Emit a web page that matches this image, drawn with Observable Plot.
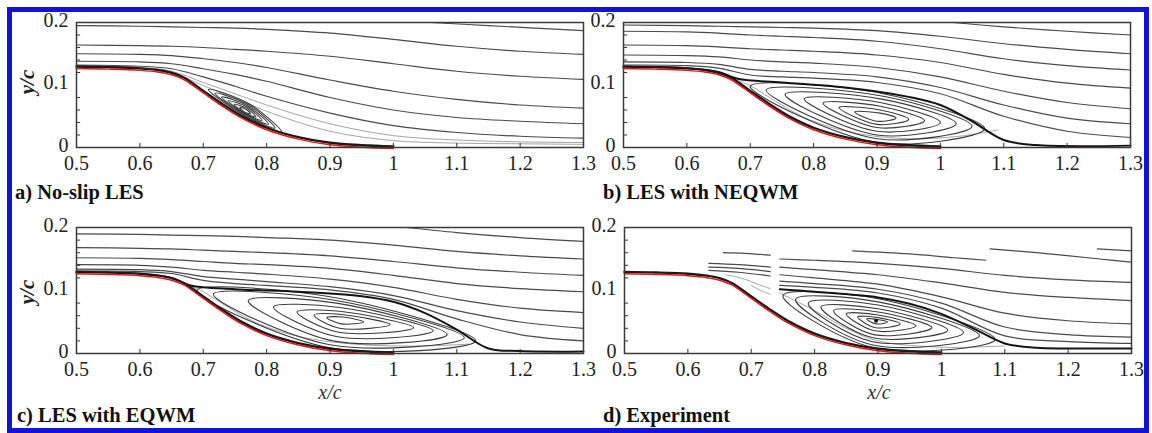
<!DOCTYPE html>
<html><head><meta charset="utf-8">
<script src="https://cdn.jsdelivr.net/npm/d3@7"></script>
<script src="https://cdn.jsdelivr.net/npm/@observablehq/plot@0.6"></script>
<style>
body{margin:0;background:#fff;}
#wrap{position:relative;width:1152px;height:433px;overflow:hidden;background:#fff;}
.panel{position:absolute;}
.panel svg{overflow:visible;background:transparent;}
#border{position:absolute;left:7px;top:7px;width:1142px;height:426px;box-sizing:border-box;border:5px solid #1212d8;}
#labels{position:absolute;left:0;top:0;pointer-events:none;}
</style></head><body><div id="wrap"><div id="border"></div></div>
<script>
// ---- axes ----
const xTicks = [0.5,0.6,0.7,0.8,0.9,1,1.1,1.2,1.3];
const yTicks = [0,0.1,0.2];
const xMinor = [0.6,0.7,0.8,0.9,1,1.1,1.2];
const yMinor = [0.02,0.04,0.06,0.08,0.12,0.14,0.16,0.18];

// ---- hump wall (red line) ----
const wallX = [0.5,0.55,0.6,0.63,0.65,0.67,0.7,0.73,0.76,0.8,0.85,0.9,0.95,1.0];
const wallY = [0.128,0.127,0.125,0.122,0.118,0.110,0.089,0.068,0.049,0.030,0.015,0.006,0.002,0.0];

// ---- x stations for streamlines ----
const stationX = [0.5,0.6,0.65,0.7,0.75,0.8,0.9,1.0,1.1,1.2,1.3];
const dStationX = [0.745,0.8,0.9,1.0,1.1,1.2,1.3];

// ---- a) No-slip LES ----
const aStream = [
  [0.195,0.194,0.193,0.192,0.191,0.189,0.183,0.173,0.162,0.154,0.149],
  [0.164,0.163,0.162,0.160,0.157,0.154,0.146,0.134,0.122,0.114,0.109],
  [0.150,0.149,0.147,0.142,0.136,0.128,0.108,0.090,0.077,0.068,0.063],
  [0.138,0.137,0.134,0.126,0.117,0.106,0.080,0.060,0.048,0.042,0.038],
  [0.132,0.130,0.126,0.113,0.098,0.082,0.055,0.035,0.024,0.018,0.015]
];
const aGrey = [
  [0.131,0.128,0.122,0.104,0.086,0.068,0.038,0.019,0.012,0.009,0.008],
  [0.130,0.127,0.120,0.099,0.079,0.058,0.026,0.011,0.007,0.006,0.005]
];
const aTop = [[1.06,0.2],[1.15,0.195],[1.3,0.187]];
const aLoops = [
  [[0.7574,0.0641],[0.7673,0.0612],[0.7746,0.0539],[0.7650,0.0568]],
  [[0.7488,0.0691],[0.7683,0.0630],[0.7832,0.0489],[0.7645,0.0560]],
  [[0.7393,0.0747],[0.7693,0.0648],[0.7927,0.0433],[0.7640,0.0552]],
  [[0.7289,0.0808],[0.7703,0.0665],[0.8031,0.0372],[0.7635,0.0542]],
  [[0.7186,0.0869],[0.7713,0.0683],[0.8134,0.0311],[0.7630,0.0532]],
  [[0.7082,0.0930],[0.7723,0.0700],[0.8238,0.0250],[0.7625,0.0522]]
];

// ---- b) LES with NEQWM ----
const bStream = [
  [0.196,0.195,0.194,0.193,0.192,0.191,0.187,0.178,0.166,0.157,0.150],
  [0.186,0.185,0.183,0.180,0.178,0.176,0.170,0.158,0.142,0.131,0.124],
  [0.164,0.163,0.161,0.158,0.156,0.154,0.148,0.136,0.117,0.103,0.095],
  [0.148,0.147,0.145,0.140,0.137,0.135,0.128,0.113,0.090,0.072,0.062],
  [0.137,0.136,0.133,0.125,0.122,0.120,0.113,0.096,0.068,0.047,0.038],
  [0.132,0.131,0.127,0.116,0.113,0.111,0.104,0.086,0.050,0.026,0.016]
];
const bTop = [[1.02,0.2],[1.1,0.193],[1.2,0.186],[1.3,0.180]];
const bSep = [[0.5,0.129],[0.6,0.127],[0.65,0.121],[0.68,0.110],[0.75,0.104],[0.85,0.096],[0.95,0.081],[1.0,0.068],[1.05,0.042],[1.1,0.012],[1.15,0.004],[1.3,0.003]];
const bGrey = [
  [[0.675,0.109],[0.70,0.099],[0.74,0.074],[0.79,0.046],[0.86,0.024],[0.95,0.014],[1.03,0.018],[1.09,0.028]]
];
const bLoops = [
  [[0.700,0.098],[0.910,0.086],[1.070,0.030],[0.900,0.008]],
  [[0.725,0.092],[0.910,0.082],[1.050,0.034],[0.900,0.014]],
  [[0.755,0.085],[0.910,0.077],[1.025,0.038],[0.900,0.020]],
  [[0.785,0.078],[0.905,0.072],[1.000,0.040],[0.900,0.026]],
  [[0.815,0.071],[0.905,0.066],[0.975,0.043],[0.900,0.032]],
  [[0.840,0.064],[0.905,0.060],[0.950,0.045],[0.900,0.037]],
  [[0.865,0.057],[0.905,0.055],[0.930,0.047],[0.900,0.042]]
];

// ---- c) LES with EQWM ----
const cStream = [
  [0.190,0.189,0.188,0.187,0.186,0.184,0.180,0.172,0.162,0.155,0.150],
  [0.168,0.167,0.166,0.164,0.162,0.160,0.155,0.146,0.136,0.129,0.124],
  [0.152,0.151,0.149,0.146,0.143,0.141,0.135,0.124,0.111,0.103,0.098],
  [0.141,0.140,0.137,0.132,0.129,0.126,0.118,0.105,0.086,0.072,0.065],
  [0.134,0.133,0.130,0.122,0.118,0.114,0.106,0.092,0.068,0.050,0.040],
  [0.131,0.130,0.127,0.116,0.111,0.108,0.101,0.086,0.055,0.030,0.020]
];
const cTop = [[1.02,0.2],[1.1,0.192],[1.2,0.184],[1.3,0.178]];
const cSep = [[0.5,0.129],[0.6,0.126],[0.65,0.120],[0.68,0.108],[0.75,0.102],[0.85,0.098],[0.95,0.091],[1.0,0.082],[1.05,0.064],[1.1,0.038],[1.15,0.008],[1.2,0.004],[1.3,0.003]];
const cGrey = [
  [[0.675,0.109],[0.70,0.098],[0.74,0.073],[0.79,0.046],[0.86,0.025],[0.95,0.014],[1.05,0.012],[1.12,0.015]]
];
const cLoops = [
  [[0.690,0.100],[0.900,0.090],[1.130,0.020],[0.900,0.009]],
  [[0.716,0.094],[0.905,0.085],[1.112,0.025],[0.900,0.014]],
  [[0.771,0.084],[0.910,0.080],[1.085,0.030],[0.905,0.020]],
  [[0.811,0.074],[0.915,0.073],[1.063,0.036],[0.910,0.027]],
  [[0.848,0.066],[0.915,0.067],[1.032,0.041],[0.912,0.034]],
  [[0.875,0.061],[0.918,0.062],[0.995,0.046],[0.915,0.040]],
  [[0.895,0.057],[0.920,0.058],[0.953,0.050],[0.918,0.047]]
];

// ---- d) Experiment ----
const dStream = [
  [0.150,0.148,0.143,0.135,0.124,0.117,0.113],
  [0.137,0.133,0.125,0.112,0.097,0.089,0.084],
  [0.125,0.120,0.110,0.090,0.064,0.052,0.047],
  [0.115,0.111,0.102,0.080,0.042,0.030,0.026],
  [0.108,0.105,0.096,0.072,0.028,0.019,0.016]
];
const dSep = [[0.745,0.102],[0.8,0.098],[0.9,0.089],[0.95,0.079],[1.0,0.063],[1.05,0.040],[1.1,0.016],[1.15,0.009],[1.2,0.008],[1.3,0.008]];
const dUpper = [
  [[0.86,0.163],[0.95,0.158],[1.02,0.152],[1.07,0.148]],
  [[1.077,0.166],[1.15,0.160],[1.25,0.150],[1.3,0.145]],
  [[1.246,0.166],[1.3,0.163]]
];
const dLeft = [
  [[0.656,0.160],[0.69,0.159],[0.73,0.156]],
  [[0.633,0.143],[0.68,0.141],[0.73,0.137]],
  [[0.633,0.137],[0.68,0.135],[0.73,0.130]],
  [[0.633,0.132],[0.68,0.129],[0.73,0.123]]
];
const dGrey = [
  [[0.66,0.125],[0.69,0.118],[0.71,0.110],[0.73,0.103]],
  [[0.70,0.108],[0.715,0.100],[0.73,0.094]],
  [[0.745,0.096],[0.8,0.068],[0.85,0.040],[0.9,0.020],[1.0,0.010],[1.1,0.012]]
];
const dLoops = [
  [[0.750,0.092],[0.900,0.087],[1.085,0.022],[0.890,0.010]],
  [[0.770,0.086],[0.900,0.082],[1.060,0.028],[0.890,0.014]],
  [[0.790,0.080],[0.900,0.077],[1.035,0.033],[0.890,0.019]],
  [[0.810,0.074],[0.900,0.071],[1.010,0.037],[0.892,0.025]],
  [[0.830,0.068],[0.900,0.066],[0.985,0.041],[0.893,0.030]],
  [[0.850,0.063],[0.900,0.061],[0.960,0.044],[0.895,0.036]],
  [[0.868,0.058],[0.900,0.057],[0.935,0.047],[0.896,0.041]],
  [[0.882,0.055],[0.899,0.054],[0.915,0.050],[0.897,0.047]]
];
const dCore = [[0.897,0.052]];

// ---- build ----
function stationRows(ys, xs, id) { return ys.map((y, i) => ({x: xs[i], y, id})); }
function ptRows(pts, id) { return pts.map(([x, y]) => ({x, y, id})); }
function anyRows(list, xs, pre) {
  return list.flatMap((g, k) => Array.isArray(g[0]) ? ptRows(g, pre + k) : stationRows(g, xs, pre + k));
}
const wallRows = wallX.map((x, i) => ({x, y: wallY[i]}));

function render(cfg) {
  const streamRows = anyRows(cfg.stream.concat(cfg.extra || []), cfg.xs, "s");
  const greyRows = anyRows(cfg.grey || [], cfg.xs, "g");
  const loopRows = cfg.loops.flatMap((p, k) => ptRows(p, "l" + k));
  const sepRows = cfg.sep ? ptRows(cfg.sep, "sep") : [];
  const marks = [
    Plot.line(greyRows, {x: "x", y: "y", z: "id", stroke: "#9a9a9a", strokeWidth: 0.9, curve: "catmull-rom"}),
    Plot.line(streamRows, {x: "x", y: "y", z: "id", stroke: "#4a4a4a", strokeWidth: 1.2, curve: "catmull-rom"}),
    Plot.line(loopRows, {x: "x", y: "y", z: "id", stroke: "#3c3c3c", strokeWidth: 1.1, curve: "catmull-rom-closed"}),
    Plot.line(sepRows, {x: "x", y: "y", stroke: "#151515", strokeWidth: 2, curve: "catmull-rom"}),
    Plot.areaY(wallRows, {x: "x", y: "y", fill: "white", curve: "catmull-rom"}),
    Plot.line(wallRows, {x: "x", y: "y", stroke: "#1a1a1a", strokeWidth: 2.4, dy: -1, curve: "catmull-rom"}),
    Plot.line(wallRows, {x: "x", y: "y", stroke: "#e3141c", strokeWidth: 1.5, dy: 1, curve: "catmull-rom"}),
    Plot.ruleX(xMinor, {x: d => d, y1: 0, y2: 0.0065, stroke: "#333"}),
    Plot.ruleY(yMinor, {y: d => d, x1: 0.5, x2: 0.5065, stroke: "#333"}),
    Plot.frame({stroke: "#3a3a3a", strokeWidth: 1.5}),
    Plot.axisX({ticks: xTicks, tickSize: 0, tickPadding: 8, tickFormat: d => String(d), label: null, fontSize: 20, fill: "#222"}),
    Plot.axisY({ticks: yTicks, tickSize: 0, tickPadding: 8, dy: -2, tickFormat: d => String(d), label: null, fontSize: 20, fill: "#222"})
  ];
  if (cfg.core) marks.push(Plot.dot(ptRows(cfg.core, "c"), {x: "x", y: "y", r: 2, fill: "#111"}));
  const chart = Plot.plot({
    width: cfg.width, height: cfg.height,
    marginLeft: cfg.ml, marginRight: cfg.mr, marginTop: cfg.mt, marginBottom: cfg.mb,
    x: {domain: [0.5, 1.3]}, y: {domain: [0, 0.2]},
    style: {fontFamily: "'Liberation Serif','Times New Roman',serif", fontSize: "20px", background: "transparent", overflow: "visible", color: "#222"},
    marks
  });
  const div = document.createElement("div");
  div.className = "panel";
  div.style.left = cfg.left + "px";
  div.style.top = cfg.top + "px";
  div.appendChild(chart);
  document.getElementById("wrap").appendChild(div);
}

render({stream: aStream, extra: [aTop], grey: aGrey, loops: aLoops, xs: stationX,
  left: 0, top: 0, width: 590, height: 180, ml: 76, mr: 7, mt: 22, mb: 33});
render({stream: bStream, extra: [bTop], grey: bGrey, loops: bLoops, sep: bSep, xs: stationX,
  left: 590, top: 0, width: 562, height: 180, ml: 33, mr: 22, mt: 22, mb: 33});
render({stream: cStream, extra: [cTop], grey: cGrey, loops: cLoops, sep: cSep, xs: stationX,
  left: 0, top: 200, width: 590, height: 200, ml: 76, mr: 7, mt: 27, mb: 47});
render({stream: dStream, extra: dUpper.concat(dLeft), grey: dGrey, loops: dLoops, sep: dSep, core: dCore, xs: dStationX,
  left: 590, top: 200, width: 562, height: 200, ml: 34, mr: 21, mt: 27, mb: 47});

// ---- text labels ----
const panelTitles = ["a) No-slip LES", "b) LES with NEQWM", "c) LES with EQWM", "d) Experiment"];
const ns = "http://www.w3.org/2000/svg";
const lab = document.createElementNS(ns, "svg");
lab.setAttribute("id", "labels");
lab.setAttribute("width", 1152);
lab.setAttribute("height", 433);
lab.setAttribute("font-family", "'Liberation Serif','Times New Roman',serif");
function addText(str, attrs) {
  const t = document.createElementNS(ns, "text");
  for (const k in attrs) t.setAttribute(k, attrs[k]);
  t.textContent = str;
  lab.appendChild(t);
}
const titlePos = [[15, 199], [603, 199], [17, 422], [603, 422]];
panelTitles.forEach((s, i) => addText(s, {x: titlePos[i][0], y: titlePos[i][1], "font-size": 20.5, "font-weight": "bold", fill: "#111"}));
addText("y/c", {transform: "translate(34,82) rotate(-90)", "text-anchor": "middle", "font-size": 21, "font-style": "italic", "font-weight": "bold", fill: "#222"});
addText("y/c", {transform: "translate(34,292) rotate(-90)", "text-anchor": "middle", "font-size": 21, "font-style": "italic", "font-weight": "bold", fill: "#222"});
addText("x/c", {x: 330, y: 399, "text-anchor": "middle", "font-size": 20, "font-style": "italic", fill: "#333"});
addText("x/c", {x: 879, y: 399, "text-anchor": "middle", "font-size": 20, "font-style": "italic", fill: "#333"});
document.getElementById("wrap").appendChild(lab);
</script>
</body></html>
